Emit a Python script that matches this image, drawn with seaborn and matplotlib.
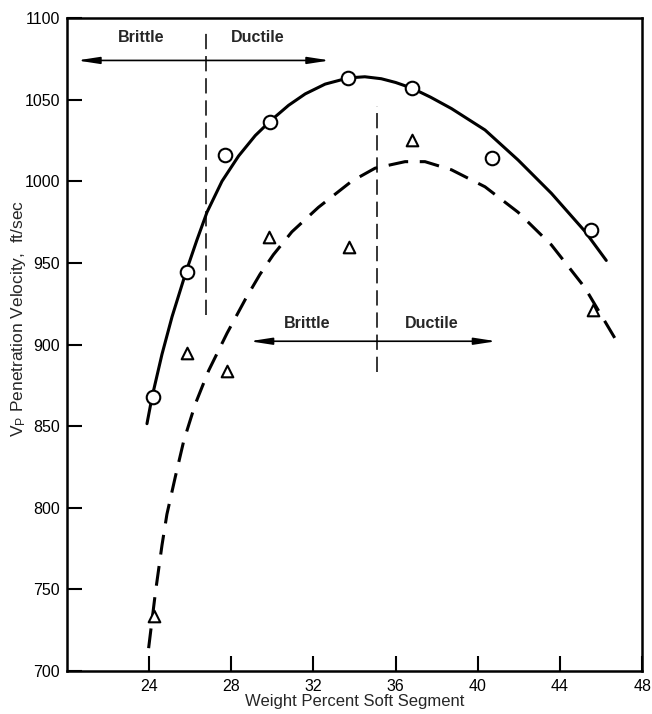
import matplotlib
matplotlib.use("Agg")
import matplotlib.pyplot as plt
import seaborn as sns
import pandas as pd

circle_x = [24.2, 25.85, 27.7, 29.9, 33.7, 36.8, 40.7, 45.5]
circle_y = [868, 944.5, 1016, 1036, 1063, 1057, 1014, 970]
triangle_x = [24.25, 25.85, 27.8, 29.85, 33.75, 36.8, 45.6]
triangle_y = [734, 895, 884, 966, 960, 1025, 921]

# hand drawn curves
solid_x = [23.9, 24.15, 24.63, 25.12, 25.8, 26.33, 26.82, 27.55, 28.36, 29.17, 29.91,
           30.79, 31.6, 32.57, 33.7, 34.5, 35.3, 36.0, 36.8, 37.7, 38.72, 40.35,
           41.96, 43.58, 45.2, 46.25]
solid_y = [851.5, 868, 894, 917, 944.5, 964, 981, 1000, 1015.5, 1028, 1037,
           1046.5, 1053.5, 1059.5, 1063.3, 1064, 1062.8, 1060.5, 1057, 1051.5, 1044.5, 1031.4,
           1013, 992.6, 969.5, 951.5]
dashed_x = [23.98, 24.31, 24.63, 24.87, 25.28, 25.69, 26.25, 26.9, 27.8, 28.7, 29.4,
            30.05, 30.95, 32.24, 33.86, 35.0, 36.46, 37.43, 38.72, 40.35, 41.96,
            43.58, 45.2, 46.9]
dashed_y = [714, 748, 777, 796, 819, 841, 863.5, 884, 907, 928, 943,
            955, 969, 984, 1000, 1008, 1012, 1012, 1007, 996.6, 981,
            961, 935, 899]

# brittle / ductile transition markers
boundary_x = [26.75, 35.1]
boundary_top = [1091, 1046]
boundary_bottom = [918, 883]
arrow_y = [1074, 902]
arrow_left = [20.5, 28.9]
arrow_right = [32.8, 40.9]
brittle_x = [23.6, 31.7]
ductile_x = [29.3, 37.75]
label_y = [1088, 913]

x_ticks = [24, 28, 32, 36, 40, 44, 48]
y_ticks = list(range(700, 1101, 50))

sns.set_style("ticks")
plt.rcParams["font.family"] = ["Liberation Sans", "DejaVu Sans"]
plt.rcParams["mathtext.fontset"] = "custom"
plt.rcParams["mathtext.rm"] = "Liberation Sans"
plt.rcParams["mathtext.it"] = "Liberation Sans"

fig = plt.figure(figsize=(6.52, 7.14), dpi=100)
ax = fig.add_axes([0.1025, 0.0602, 0.8825, 0.9146])

solid = pd.DataFrame({"x": solid_x, "y": solid_y})
dashed = pd.DataFrame({"x": dashed_x, "y": dashed_y})
sns.lineplot(data=solid, x="x", y="y", ax=ax, color="black", lw=2.2,
             sort=False, estimator=None, zorder=2)
sns.lineplot(data=dashed, x="x", y="y", ax=ax, color="black", lw=2.2,
             sort=False, estimator=None, zorder=2)
ax.lines[-1].set_dashes((6.5, 3.8))

ax.vlines(boundary_x, boundary_bottom, boundary_top, colors="black",
          lw=1.1, linestyles=(0, (10, 4.5)), zorder=1)

# double headed arrows spanning the brittle / ductile regions
for y, x0, x1 in zip(arrow_y, arrow_left, arrow_right):
    ax.annotate("", xy=(x1, y), xytext=(x0, y),
                arrowprops=dict(arrowstyle="<|-|>,head_length=1.1,head_width=0.17",
                                lw=1.2, color="black", shrinkA=0, shrinkB=0,
                                mutation_scale=12))

for bx, dx, ly in zip(brittle_x, ductile_x, label_y):
    ax.text(bx, ly, "Brittle", ha="center", va="center", fontsize=11.5, fontweight="bold")
    ax.text(dx, ly, "Ductile", ha="center", va="center", fontsize=11.5, fontweight="bold")

sns.scatterplot(x=circle_x, y=circle_y, ax=ax, marker="o", s=95,
                facecolor="white", edgecolor="black", linewidth=1.5, zorder=3)
sns.scatterplot(x=triangle_x, y=triangle_y, ax=ax, marker="^", s=70,
                facecolor="white", edgecolor="black", linewidth=1.5, zorder=3)

ax.set_xlim(20, 48)
ax.set_ylim(700, 1100)
ax.set_xticks(x_ticks)
ax.set_yticks(y_ticks)
ax.tick_params(direction="in", length=11, width=1.5, labelsize=11.5, colors="black")
ax.tick_params(axis="x", pad=6)
ax.tick_params(axis="y", pad=5)
for s in ax.spines.values():
    s.set_linewidth(1.8)
    s.set_color("black")

ax.set_xlabel("Weight Percent Soft Segment", fontsize=12, labelpad=0)
ax.set_ylabel(r"V$_\mathregular{P}$ Penetration Velocity,  ft/sec", fontsize=12.5)
ax.yaxis.set_label_coords(-0.068, 0.54)

fig.savefig("out.png", dpi=100)
